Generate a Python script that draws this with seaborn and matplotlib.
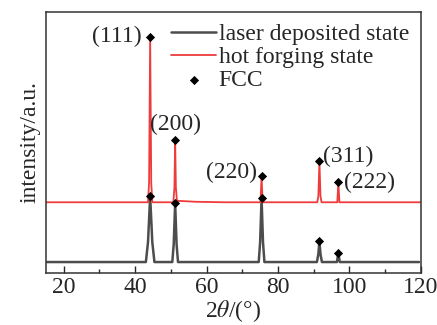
import numpy as np
import matplotlib
matplotlib.use("Agg")
import matplotlib.pyplot as plt
import seaborn as sns

# traced XRD patterns (2theta, intensity in a.u.)
laser_2theta = [15, 43.0, 43.6, 44.2, 44.8, 45.4, 50.4, 50.8, 51.2, 51.6, 52.0,
                74.6, 75.0, 75.4, 75.8, 76.2, 90.9, 91.3, 91.6, 91.9, 92.3,
                96.5, 96.9, 97.3, 119.5]
laser_int = [0, 0, 20, 66, 20, 0, 0, 18, 59, 18, 0,
             0, 20, 64, 20, 0, 0, 8, 21, 8, 0,
             0, 9, 0, 0]

forge_2theta = [15, 43.6, 43.9, 44.2, 44.5, 44.8, 50.7, 51.0, 51.2, 51.4, 51.7,
                57.0, 65.0, 75.1, 75.4, 75.7, 91.0, 91.3, 91.6, 91.9, 92.2,
                96.6, 96.9, 97.2, 120]
forge_int = [60, 60, 80, 226, 80, 60, 60, 75, 123, 75, 61.5,
             60.5, 60, 60, 86, 60, 60, 66, 101, 66, 60,
             60, 80, 60, 60]

fcc_2theta = [44.2, 51.2, 75.4, 91.6, 96.9]
fcc_laser = [66, 59, 64, 21, 9]
fcc_forge = [226, 123, 86, 101, 80]
hkl = ["(111)", "(200)", "(220)", "(311)", "(222)"]

sns.set_style("ticks")
plt.rcParams['font.family'] = ['Liberation Serif', 'DejaVu Serif']
plt.rcParams['mathtext.fontset'] = 'stix'

fig = plt.figure(figsize=(4.37, 3.25), dpi=100)
ax = fig.add_axes([0.105, 0.16, 0.858, 0.803])

sns.lineplot(x=laser_2theta, y=laser_int, sort=False, estimator=None, color="#4d4d4d",
             lw=1.8, label="laser deposited state", ax=ax)
sns.lineplot(x=forge_2theta, y=forge_int, sort=False, estimator=None, color="#ee3b3b",
             lw=1.3, label="hot forging state", ax=ax)
sns.scatterplot(x=fcc_2theta + fcc_2theta, y=fcc_laser + fcc_forge, marker="D",
                color="black", s=22, linewidth=0, label="FCC", ax=ax, zorder=5)

# peak labels
offsets = [(-2.4, 0, "right"), (0.2, 15, "center"), (-1.4, 4, "right"),
           (0.9, 5, "left"), (1.5, 0, "left")]
for x, y, t, (dx, dy, ha) in zip(fcc_2theta, fcc_forge, hkl, offsets):
    ax.text(x + dx, y + dy, t, ha=ha, va="center", fontsize=17)

ax.set_xlim(15, 120)
ax.set_ylim(-11, 251)
ax.set_xticks([20, 40, 60, 80, 100, 120])
ax.set_xticks([30, 50, 70, 90, 110], minor=True)
ax.set_yticks([])
ax.tick_params(axis="x", which="both", direction="in", labelsize=17, pad=3)
ax.tick_params(axis="x", which="major", length=5, width=1)
ax.tick_params(axis="x", which="minor", length=3, width=1)
for s in ax.spines.values():
    s.set_color("#333333")
    s.set_linewidth(1.1)

ax.set_xlabel(r"2$\theta$/(°)", fontsize=17, labelpad=0)
ax.set_ylabel("intensity/a.u.", fontsize=17, labelpad=4)

ax.legend(loc="upper right", frameon=False, fontsize=17, handlelength=1.9,
          handletextpad=0.1, labelspacing=0.05, borderaxespad=0.1)

fig.savefig("out.png", dpi=100)
